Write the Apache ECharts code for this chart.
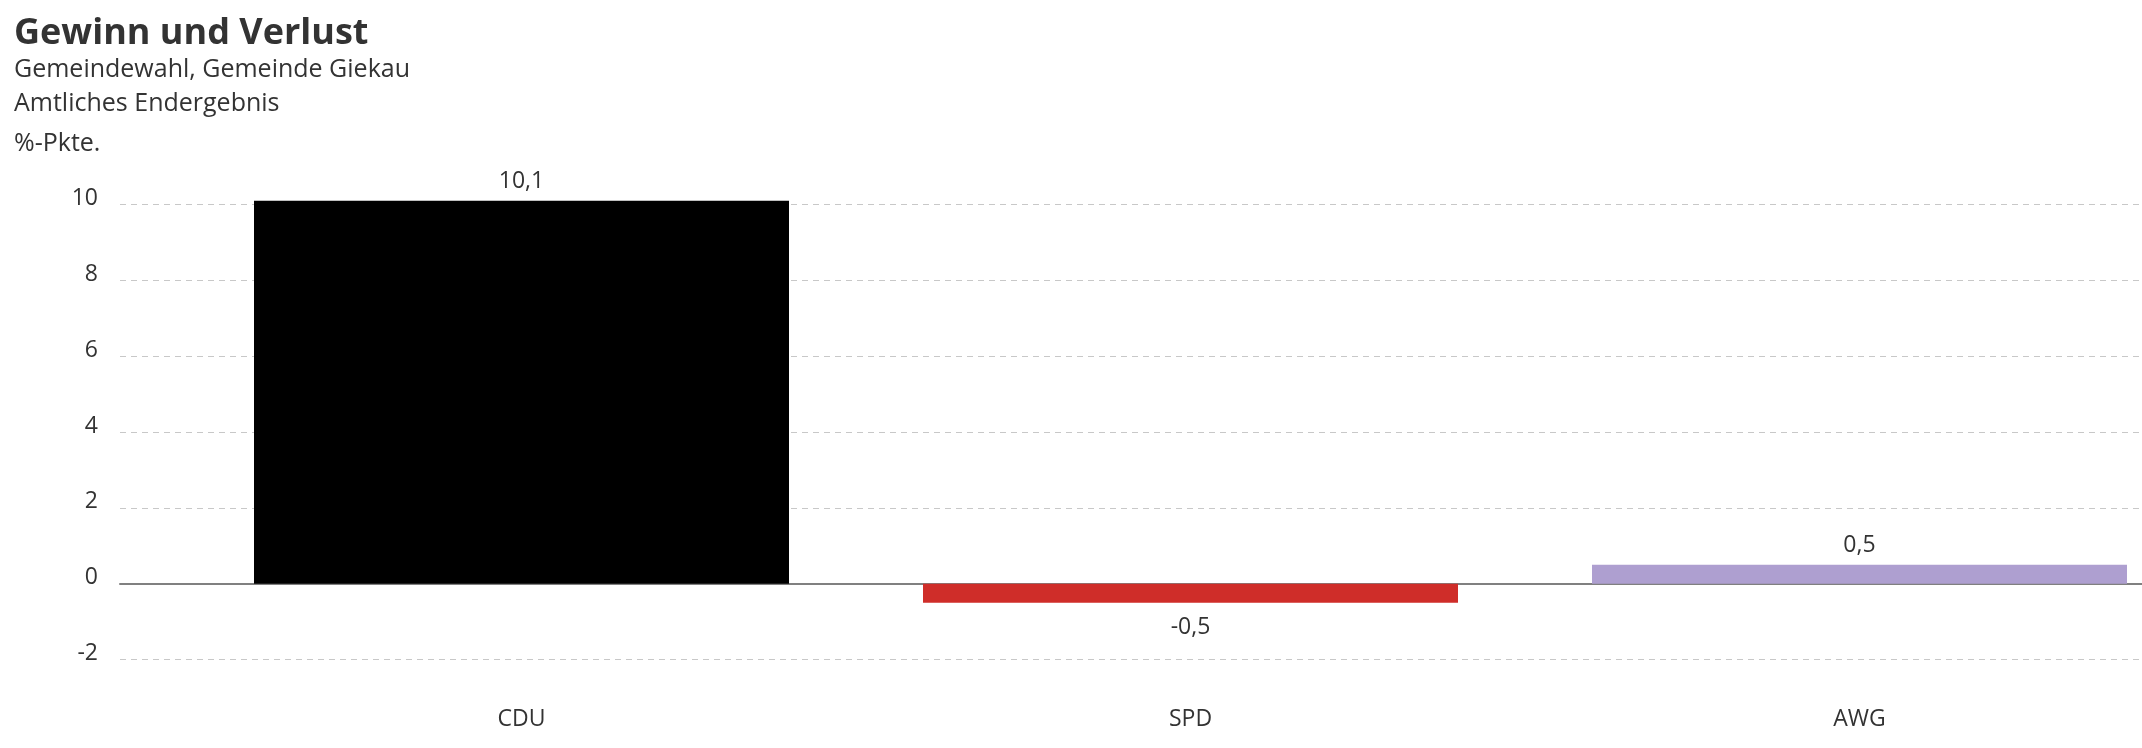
<!DOCTYPE html>
<html><head><meta charset="utf-8">
<script src="https://cdn.jsdelivr.net/npm/echarts@6/dist/echarts.min.js"></script>
<style>html,body{margin:0;padding:0;background:#fff}#c{width:2142px;height:748px}</style>
</head><body><div id="c"></div>
<script>
// ---- data ----
const categories = ['CDU', 'SPD', 'AWG'];
const changes = [10.1, -0.5, 0.5];
const yMin = -2;
const yMax = 10;
const yStep = 2;
const titleText = 'Gewinn und Verlust';
const subtitleLines = ['Gemeindewahl, Gemeinde Giekau', 'Amtliches Endergebnis'];
const unitText = '%-Pkte.';

// ---- styles / layout ----
const partyColors = ['#000000', '#cf2d29', '#ae9fd0'];
const FONT = '"Open Sans", "Noto Sans", sans-serif';
const TXT = '#333333';
const BAND = 669;          // px per category band (plot was wider than the crop)
const FIRST_CENTER = 521.5; // px, centre of first band
const W = 2142;
const xMaxVisible = (W - FIRST_CENTER) / BAND;

const fmt = v => String(v).replace('.', ',');

const chart = echarts.init(document.getElementById('c'), null, {renderer: 'canvas'});
chart.setOption({
  animation: false,
  backgroundColor: '#ffffff',
  textStyle: {fontFamily: FONT},
  title: [
    {text: titleText, left: 9, top: 11, textStyle: {fontFamily: FONT, fontSize: 36, lineHeight: 36, fontWeight: 'bold', color: TXT}},
    {text: subtitleLines[0], left: 9, top: 52, textStyle: {fontFamily: FONT, fontSize: 25, lineHeight: 25, fontWeight: 'normal', color: TXT}},
    {text: subtitleLines[1], left: 9, top: 86, textStyle: {fontFamily: FONT, fontSize: 25, lineHeight: 25, fontWeight: 'normal', color: TXT}},
    {text: unitText, left: 9, top: 126, textStyle: {fontFamily: FONT, fontSize: 25, lineHeight: 25, fontWeight: 'normal', color: TXT}}
  ],
  grid: [
    {left: 120, right: 0, top: 204.5, bottom: 88.5, containLabel: false},
    {left: FIRST_CENTER, right: 0, top: 204.5, bottom: 88.5, containLabel: false}
  ],
  xAxis: [
    {
      gridIndex: 0, type: 'value', min: 0, max: 1,
      axisLine: {show: true, onZero: true, lineStyle: {color: '#808080', width: 2}},
      axisTick: {show: false}, axisLabel: {show: false}, splitLine: {show: false}
    },
    {
      gridIndex: 1, type: 'value', min: 0, max: xMaxVisible, interval: 1, position: 'bottom',
      axisLine: {show: false, onZero: false}, axisTick: {show: false},
      axisLabel: {margin: 48, fontFamily: FONT, fontSize: 23, color: TXT,
        showMinLabel: true, showMaxLabel: false,
        formatter: v => (Number.isInteger(v) && categories[v] !== undefined) ? categories[v] : ''},
      splitLine: {show: false}
    }
  ],
  yAxis: [
    {
      gridIndex: 0, type: 'value', min: yMin, max: yMax, interval: yStep,
      axisLine: {show: false}, axisTick: {show: false},
      axisLabel: {margin: 22, fontFamily: FONT, fontSize: 23, color: TXT,
        verticalAlign: 'bottom', lineHeight: 12, formatter: v => fmt(v)},
      splitLine: {show: true, lineStyle: {color: '#c8c8c8', width: 1, type: [6, 5]}}
    },
    {
      gridIndex: 1, type: 'value', min: yMin, max: yMax, interval: yStep, show: false,
      splitLine: {show: false}
    }
  ],
  series: [{
    type: 'bar',
    xAxisIndex: 1, yAxisIndex: 1,
    barWidth: Math.round(BAND * 0.8),
    clip: false,
    data: changes.map((v, i) => ({
      value: [i, v],
      itemStyle: {color: partyColors[i]},
      label: {position: v < 0 ? 'bottom' : 'top', distance: v < 0 ? 13 : 8}
    })),
    label: {
      show: true, fontFamily: FONT, fontSize: 23, color: TXT,
      formatter: p => fmt(p.value[1])
    },
    z: 3
  }]
});
</script>
</body></html>
